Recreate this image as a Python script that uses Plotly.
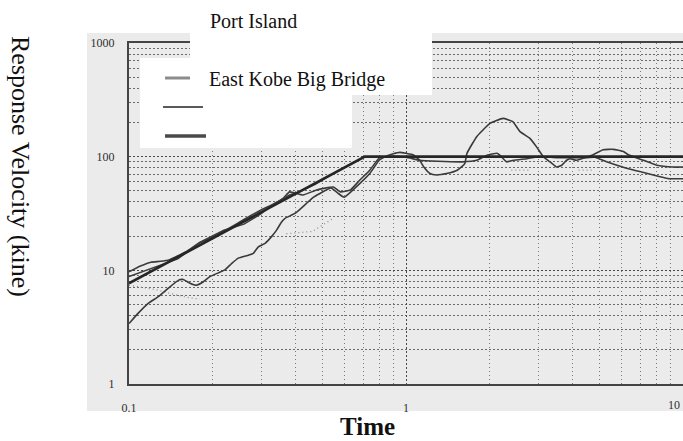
import plotly.graph_objects as go

# ---------------- data ----------------
design_x = [0.1, 0.71, 10]
design_y = [7.7, 100, 100]

# "East Kobe Big Bridge" (grey) - upper record, close to the design line
kobe_x = [0.1, 0.11, 0.12, 0.13, 0.14, 0.16, 0.18, 0.2, 0.23, 0.26, 0.3, 0.33, 0.36,
          0.38, 0.425, 0.476, 0.547, 0.58, 0.63, 0.68, 0.74, 0.8, 0.85, 0.9, 1.0,
          1.12, 1.3, 1.6, 1.8, 1.96, 2.13, 2.18, 2.31, 2.44, 2.73, 3.03, 3.5, 4.0,
          4.5, 4.8, 5.3, 6.25, 6.98, 8.2, 8.9, 10]
kobe_y = [9.7, 10.9, 11.8, 12.0, 12.4, 14.5, 17.5, 19.5, 23.5, 28, 34, 38, 43,
          49, 46, 51, 54, 49, 51, 62, 76, 97, 100, 101, 99,
          93, 91, 90, 93, 103, 107, 103, 90, 93, 96, 100, 98, 98,
          98, 99, 90, 79, 74, 67, 64, 64]

# Port Island (thin) - lower record at short periods, large peak near 2 s
port_x = [0.1, 0.108, 0.117, 0.128, 0.139, 0.151, 0.157, 0.166, 0.175, 0.185, 0.196,
          0.21, 0.222, 0.235, 0.248, 0.27, 0.281, 0.293, 0.31, 0.327, 0.341, 0.356,
          0.366, 0.40, 0.464, 0.536, 0.566, 0.598, 0.66, 0.74, 0.80, 0.84, 0.9,
          0.95, 1.0, 1.06, 1.12, 1.16, 1.22, 1.29, 1.4, 1.53, 1.63, 1.66, 1.8, 2.01,
          2.24, 2.43, 2.58, 2.8, 2.96, 3.13, 3.31, 3.5, 3.65, 3.8, 3.91, 4.13, 4.74,
          5.15, 5.6, 6.09, 6.35, 7.19, 8.04, 9.23, 10]
port_y = [3.4, 4.2, 5.1, 5.9, 7.0, 8.2, 8.3, 7.7, 7.4, 7.9, 8.8,
          9.5, 10.1, 11.5, 12.8, 13.6, 14.1, 16.1, 17.3, 19.8, 22.6, 26.7,
          28.7, 32, 44, 53, 48, 44, 54, 71, 93, 100, 106,
          109, 107, 104, 93, 81, 71, 69, 71, 76, 87, 107, 150, 196,
          217, 203, 166, 145, 122, 100, 90, 81, 84, 93, 96, 93, 104,
          115, 116, 111, 104, 93, 84, 81, 81]

# second thin record hugging the design line at short periods
third_x = [0.1, 0.12, 0.15, 0.18, 0.22, 0.26, 0.3, 0.34, 0.38, 0.42, 0.47, 0.52,
           0.58, 0.65, 0.71]
third_y = [8.8, 10.3, 12.6, 17.6, 22.5, 25.5, 31.5, 39.5, 46, 50, 57, 66, 77, 89, 100]

# faint dotted record (only the visible fragments)
faint_x = [0.1, 0.124, 0.147, 0.168, 0.18, None, 0.37, 0.46, 0.55, None, 0.87, 0.95,
           None, 2.4, 2.8, None, 4.2, 4.7]
faint_y = [7.4, 6.8, 6.1, 5.7, 5.6, None, 21, 22, 29, None, 78, 82,
           None, 76, 76, None, 76, 76]

x_tickvals = [0.1, 1]
x_ticktext = ["0.1", "1"]
x_edge_label = "10"
y_tickvals = [1, 10, 100, 1000]
y_ticktext = ["1", "10", "100", "1000"]

# ---------------- figure ----------------
W, H = 683, 441
L, R, T, B = 129, 0, 43, 57
PW, PH = W - L - R, H - T - B


def fx(p):
    return (p - L) / PW


def fy(p):
    return (H - B - p) / PH


SERIF = "Times New Roman, Liberation Serif, serif"
TICKFONT = dict(family=SERIF, size=12, color="#2e2e2e")

fig = go.Figure()
fig.add_trace(go.Scatter(x=faint_x, y=faint_y, mode="lines", connectgaps=False,
                         line=dict(color="#8f8f8f", width=1.3, dash="1px,3px"),
                         showlegend=False, hoverinfo="skip"))
fig.add_trace(go.Scatter(x=third_x, y=third_y, mode="lines",
                         line=dict(color="#3c3c3c", width=1.5),
                         showlegend=False))
fig.add_trace(go.Scatter(x=kobe_x, y=kobe_y, mode="lines", name="East Kobe Big Bridge",
                         line=dict(color="#3c3c3c", width=1.6, shape="spline",
                                   smoothing=0.4),
                         showlegend=False))
fig.add_trace(go.Scatter(x=port_x, y=port_y, mode="lines", name="Port Island",
                         line=dict(color="#3a3a3a", width=1.6, shape="spline",
                                   smoothing=0.4),
                         showlegend=False))
fig.add_trace(go.Scatter(x=design_x, y=design_y, mode="lines", name="Design",
                         line=dict(color="#262626", width=2.6),
                         showlegend=False))

axis_common = dict(
    type="log", showline=True, linecolor="#444", linewidth=2, mirror=True,
    ticks="", tickfont=TICKFONT, zeroline=False, automargin=False,
)

fig.update_xaxes(
    range=[-1, 1], tickvals=x_tickvals, ticktext=x_ticktext,
    showgrid=True, gridcolor="#4a4a4a", gridwidth=1.3, griddash="2px,2px",
    ticklabelstandoff=12,
    minor=dict(dtick="D1", showgrid=True, gridcolor="#7a7a7a", gridwidth=1,
               griddash="1px,3px"),
    **axis_common,
)
fig.update_yaxes(
    range=[0, 3], tickvals=y_tickvals, ticktext=y_ticktext,
    showgrid=True, gridcolor="#4a4a4a", gridwidth=1.3, griddash="2px,2px",
    ticklabelstandoff=10,
    minor=dict(dtick="D1", showgrid=True, gridcolor="#6a6a6a", gridwidth=1.2,
               griddash="2px,2px"),
    **axis_common,
)

shapes = [
    # scanned page background
    dict(type="rect", xref="paper", yref="paper", x0=fx(87), x1=fx(683),
         y0=fy(411), y1=fy(33), fillcolor="#ebebeb", line=dict(width=0),
         layer="below"),
    # white legend patches
    dict(type="rect", xref="paper", yref="paper", x0=fx(190), x1=fx(432),
         y0=fy(95), y1=fy(0), fillcolor="white", line=dict(width=0), layer="above"),
    dict(type="rect", xref="paper", yref="paper", x0=fx(140), x1=fx(352),
         y0=fy(148), y1=fy(58), fillcolor="white", line=dict(width=0), layer="above"),
    # legend line samples
    dict(type="line", xref="paper", yref="paper", x0=fx(165), x1=fx(190),
         y0=fy(78), y1=fy(78), line=dict(color="#8c8c8c", width=3), layer="above"),
    dict(type="line", xref="paper", yref="paper", x0=fx(163), x1=fx(203),
         y0=fy(107), y1=fy(107), line=dict(color="#5a5a5a", width=1.8), layer="above"),
    dict(type="line", xref="paper", yref="paper", x0=fx(165), x1=fx(206),
         y0=fy(136), y1=fy(136), line=dict(color="#4a4a4a", width=3.5), layer="above"),
]

annotations = [
    dict(text="Port Island", xref="paper", yref="paper", x=fx(208), y=fy(21),
         xanchor="left", yanchor="middle", showarrow=False,
         font=dict(family=SERIF, size=20, color="#111")),
    dict(text="East Kobe Big Bridge", xref="paper", yref="paper", x=fx(207), y=fy(79),
         xanchor="left", yanchor="middle", showarrow=False,
         font=dict(family=SERIF, size=20, color="#111")),
    dict(text="Response Velocity (kine)", xref="paper", yref="paper", x=fx(21),
         y=fy(166), textangle=90, xanchor="center", yanchor="middle",
         showarrow=False, font=dict(family=SERIF, size=26, color="#111")),
    dict(text="<b>Time</b>", xref="paper", yref="paper", x=fx(367), y=fy(427),
         xanchor="center", yanchor="middle", showarrow=False,
         font=dict(family=SERIF, size=25, color="#111")),
    # right-edge x tick label, kept inside the page
    dict(text=x_edge_label, xref="paper", yref="paper", x=fx(682), y=fy(405),
         xanchor="right", yanchor="middle", showarrow=False, font=TICKFONT),
]

fig.update_layout(
    width=W, height=H,
    margin=dict(l=L, r=R, t=T, b=B, pad=0),
    paper_bgcolor="white", plot_bgcolor="rgba(0,0,0,0)",
    shapes=shapes, annotations=annotations, showlegend=False,
)

fig.write_html("out.html")
